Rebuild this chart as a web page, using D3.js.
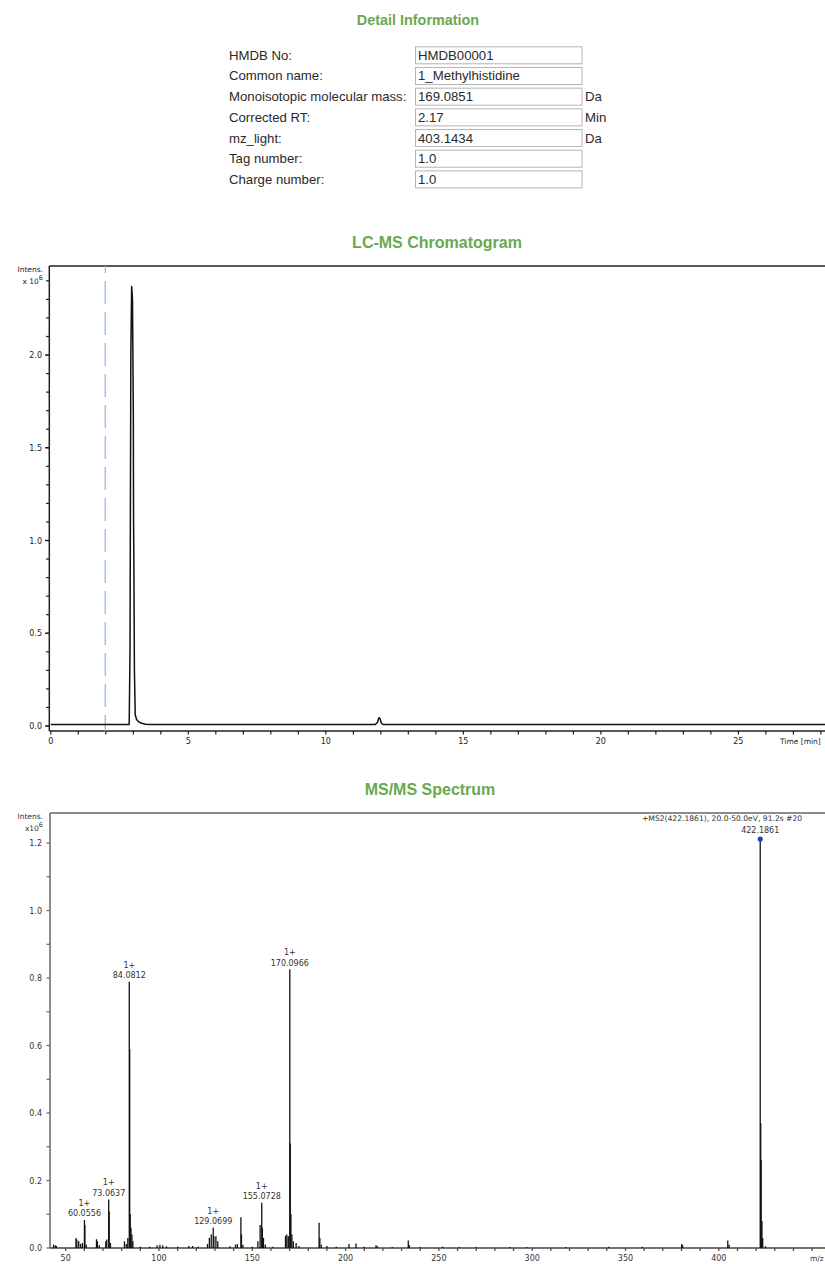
<!DOCTYPE html>
<html>
<head>
<meta charset="utf-8">
<script src="https://cdn.jsdelivr.net/npm/d3@7"></script>
<style>
  html, body { margin: 0; padding: 0; background: #fff; }
  svg { display: block; }
</style>
</head>
<body>
<div id="chart"></div>
<script>
// ---------------- DATA ----------------
const detailLabels = ["HMDB No:", "Common name:", "Monoisotopic molecular mass:", "Corrected RT:", "mz_light:", "Tag number:", "Charge number:"];
const detailValues = ["HMDB00001", "1_Methylhistidine", "169.0851", "2.17", "403.1434", "1.0", "1.0"];
const detailUnits  = ["", "", "Da", "Min", "Da", "", ""];

// LC-MS chromatogram (time in min, intensity x10^6)
const lcTime      = [0, 2.85, 2.88, 2.91, 2.94, 2.97, 3.0, 3.01, 3.02, 3.04, 3.07, 3.12, 3.2, 3.3, 3.45, 3.6, 11.8, 11.88, 11.93, 11.97, 12.02, 12.08, 28.2];
const lcIntensity = [0.008, 0.008, 0.4, 2.0, 2.37, 2.3, 1.7, 1.1, 0.9, 0.3, 0.06, 0.035, 0.022, 0.015, 0.01, 0.008, 0.008, 0.02, 0.045, 0.04, 0.015, 0.008, 0.008];
const rtMarker = 1.98;
const lcYTickLabels = ["0.0", "0.5", "1.0", "1.5", "2.0"];
const lcXTickLabels = ["0", "5", "10", "15", "20", "25"];

// MS/MS spectrum (m/z, intensity x10^6)
const msMz = [43.5, 44.5, 45, 55.5, 56, 57, 58, 59, 60.0556, 60.3, 61, 66.5, 67, 68, 71.5, 72, 73.0637, 73.3, 74,
  81.5, 82.5, 83.3, 84.0812, 84.3, 84.6, 85, 85.5, 86, 90, 95, 99, 100.5, 102, 104, 110, 116, 118, 121,
  126, 127, 128, 129.0699, 129.4, 130.5, 131.5, 138, 141, 142, 143.9, 144.2, 145, 150, 153, 154.2, 155.0728, 155.4, 156, 157, 161,
  167.8, 168.5, 169.3, 170.0966, 170.35, 170.7, 171.2, 172, 173.5, 175, 185.8, 186.2, 187, 190, 195, 201.8, 205.6, 210, 216.3, 217,
  225, 233.6, 234.2, 240, 252, 261, 270, 288, 297, 318, 341, 359, 380.1, 380.6, 404.8, 405.5,
  422.1861, 422.45, 422.7, 423.1, 423.5, 425];
const msIntensity = [0.01, 0.008, 0.006, 0.03, 0.025, 0.02, 0.012, 0.015, 0.083, 0.068, 0.01, 0.026, 0.02, 0.008, 0.02, 0.025, 0.144, 0.108, 0.015,
  0.02, 0.012, 0.03, 0.789, 0.59, 0.1, 0.06, 0.04, 0.02, 0.004, 0.004, 0.008, 0.01, 0.008, 0.005, 0.004, 0.006, 0.006, 0.004,
  0.012, 0.03, 0.04, 0.06, 0.035, 0.035, 0.02, 0.005, 0.01, 0.012, 0.091, 0.04, 0.01, 0.004, 0.02, 0.068, 0.134, 0.06, 0.03, 0.01, 0.004,
  0.036, 0.04, 0.035, 0.826, 0.31, 0.1, 0.04, 0.02, 0.015, 0.006, 0.075, 0.03, 0.01, 0.006, 0.004, 0.012, 0.013, 0.004, 0.008, 0.005,
  0.003, 0.022, 0.008, 0.003, 0.004, 0.003, 0.003, 0.003, 0.003, 0.003, 0.004, 0.004, 0.012, 0.008, 0.022, 0.01,
  1.212, 0.37, 0.26, 0.08, 0.03, 0.005];
const labelMz = [60.0556, 73.0637, 84.0812, 129.0699, 155.0728, 170.0966];
const labelCharge = "1+";
const precursorMz = 422.1861;
const msHeader = "+MS2(422.1861), 20.0-50.0eV, 91.2s #20";
const msYTickLabels = ["0.0", "0.2", "0.4", "0.6", "0.8", "1.0", "1.2"];
const msXTickLabels = ["50", "100", "150", "200", "250", "300", "350", "400"];

// ---------------- DRAW ----------------
const W = 825, H = 1264;
const green = "#6aa84f";
const svg = d3.select("#chart").append("svg").attr("width", W).attr("height", H);
svg.append("rect").attr("width", W).attr("height", H).attr("fill", "#fff");

// Detail table
svg.append("text").attr("x", 418).attr("y", 25).attr("text-anchor", "middle")
  .attr("font-family", "Liberation Sans, Arial, sans-serif").attr("font-weight", "bold")
  .attr("font-size", 14.4).attr("fill", green).text("Detail Information");

const rowY = d3.scaleLinear().domain([0, 6]).range([55.3, 179.4]);
const rows = svg.append("g").attr("font-family", "Liberation Sans, Arial, sans-serif").attr("font-size", 13.2).attr("fill", "#2a2a2a");
detailLabels.forEach((lab, i) => {
  const cy = rowY(i);
  rows.append("text").attr("x", 229).attr("y", cy + 4.5).text(lab);
  rows.append("rect").attr("x", 415.5).attr("y", cy - 8.5).attr("width", 166.5).attr("height", 17)
    .attr("fill", "#fff").attr("stroke", "#b4b4b4").attr("stroke-width", 1);
  rows.append("text").attr("x", 418).attr("y", cy + 4.5).text(detailValues[i]);
  if (detailUnits[i]) rows.append("text").attr("x", 585).attr("y", cy + 4.5).text(detailUnits[i]);
});

// ---- LC-MS chart ----
svg.append("text").attr("x", 437).attr("y", 248).attr("text-anchor", "middle")
  .attr("font-family", "Liberation Sans, Arial, sans-serif").attr("font-weight", "bold")
  .attr("font-size", 16).attr("fill", green).text("LC-MS Chromatogram");

const lcX = d3.scaleLinear().domain([0, 28.15]).range([50.8, 825]);
const lcY = d3.scaleLinear().domain([0, 2.48]).range([726, 266]);
const axisFont = "DejaVu Sans, Verdana, sans-serif";
const lc = svg.append("g");

// frame
lc.append("line").attr("x1", 49.3).attr("x2", 825).attr("y1", 266).attr("y2", 266).attr("stroke", "#222").attr("stroke-width", 1.5);
lc.append("line").attr("x1", 49.3).attr("x2", 49.3).attr("y1", 266).attr("y2", 731).attr("stroke", "#222").attr("stroke-width", 1.5);
lc.append("line").attr("x1", 49.3).attr("x2", 825).attr("y1", 731).attr("y2", 731).attr("stroke", "#222").attr("stroke-width", 1.5);

// y ticks
const lcYMinor = d3.range(0, 2.41, 0.1);
lc.selectAll(".ytm").data(lcYMinor).enter().append("line")
  .attr("x1", 46).attr("x2", 49.3).attr("y1", d => lcY(d)).attr("y2", d => lcY(d))
  .attr("stroke", "#222").attr("stroke-width", 1.2);
lc.selectAll(".ytM").data(lcYTickLabels).enter().append("line")
  .attr("x1", 45).attr("x2", 49.3).attr("y1", d => lcY(+d)).attr("y2", d => lcY(+d))
  .attr("stroke", "#222").attr("stroke-width", 1.3);
lc.selectAll(".ytl").data(lcYTickLabels).enter().append("text")
  .attr("x", 42).attr("y", d => lcY(+d) + 3).attr("text-anchor", "end")
  .attr("font-family", axisFont).attr("font-size", 8).attr("fill", "#222").text(d => d);

// x ticks
lc.selectAll(".xtm").data(d3.range(0, 29, 1)).enter().append("line")
  .attr("x1", d => lcX(d)).attr("x2", d => lcX(d)).attr("y1", 731).attr("y2", 734.5)
  .attr("stroke", "#222").attr("stroke-width", 1.2);
lc.selectAll(".xtl").data(lcXTickLabels).enter().append("text")
  .attr("x", d => lcX(+d)).attr("y", 744).attr("text-anchor", "middle")
  .attr("font-family", axisFont).attr("font-size", 8).attr("fill", "#222").text(d => d);
lc.append("text").attr("x", 780).attr("y", 744).attr("font-family", axisFont).attr("font-size", 7.5)
  .attr("fill", "#222").text("Time [min]");

// Intens label
lc.append("text").attr("x", 43).attr("y", 272).attr("text-anchor", "end").attr("font-family", axisFont)
  .attr("font-size", 7.5).attr("fill", "#222").text("Intens.");
const x10a = lc.append("text").attr("x", 43).attr("y", 284).attr("text-anchor", "end").attr("font-family", axisFont)
  .attr("font-size", 7.5).attr("fill", "#222");
x10a.append("tspan").text("x 10");
x10a.append("tspan").attr("dy", -4).attr("font-size", 6.5).text("6");

// RT marker
lc.append("line").attr("x1", lcX(rtMarker)).attr("x2", lcX(rtMarker)).attr("y1", 266).attr("y2", 731)
  .attr("stroke", "#8dbcf2").attr("stroke-width", 1.3).attr("stroke-dasharray", "23,8").attr("stroke-dashoffset", 16);

// chromatogram line
const lcData = lcTime.map((t, i) => [t, lcIntensity[i]]);
lc.append("path").datum(lcData)
  .attr("d", d3.line().x(d => lcX(d[0])).y(d => lcY(d[1])))
  .attr("fill", "none").attr("stroke", "#111").attr("stroke-width", 1.5).attr("stroke-linejoin", "round");

// ---- MS/MS chart ----
svg.append("text").attr("x", 430).attr("y", 795).attr("text-anchor", "middle")
  .attr("font-family", "Liberation Sans, Arial, sans-serif").attr("font-weight", "bold")
  .attr("font-size", 16).attr("fill", green).text("MS/MS Spectrum");

const msX = d3.scaleLinear().domain([41.6, 456.9]).range([50, 825]);
const msY = d3.scaleLinear().domain([0, 1.292]).range([1248, 812]);
const ms = svg.append("g");
const frameCol = "#666";
ms.append("line").attr("x1", 50).attr("x2", 825).attr("y1", 813).attr("y2", 813).attr("stroke", frameCol).attr("stroke-width", 1.5);
ms.append("line").attr("x1", 50).attr("x2", 50).attr("y1", 813).attr("y2", 1248).attr("stroke", frameCol).attr("stroke-width", 1.5);
ms.append("line").attr("x1", 50).attr("x2", 825).attr("y1", 1248).attr("y2", 1248).attr("stroke", "#444").attr("stroke-width", 1.3);

ms.selectAll(".ytm").data(d3.range(0, 1.21, 0.1)).enter().append("line")
  .attr("x1", 46.5).attr("x2", 50).attr("y1", d => msY(d)).attr("y2", d => msY(d))
  .attr("stroke", frameCol).attr("stroke-width", 1.2);
ms.selectAll(".ytl").data(msYTickLabels).enter().append("text")
  .attr("x", 42).attr("y", d => msY(+d) + 3).attr("text-anchor", "end")
  .attr("font-family", axisFont).attr("font-size", 8).attr("fill", "#333").text(d => d);

ms.selectAll(".xtm").data(d3.range(50, 451, 10)).enter().append("line")
  .attr("x1", d => msX(d)).attr("x2", d => msX(d)).attr("y1", 1248).attr("y2", 1251)
  .attr("stroke", "#444").attr("stroke-width", 1.2);
ms.selectAll(".xtl").data(msXTickLabels).enter().append("text")
  .attr("x", d => msX(+d)).attr("y", 1261).attr("text-anchor", "middle")
  .attr("font-family", axisFont).attr("font-size", 8).attr("fill", "#333").text(d => d);
ms.append("text").attr("x", 810).attr("y", 1261).attr("font-family", axisFont).attr("font-size", 7.5)
  .attr("fill", "#333").text("m/z");

ms.append("text").attr("x", 43).attr("y", 819).attr("text-anchor", "end").attr("font-family", axisFont)
  .attr("font-size", 7.5).attr("fill", "#333").text("Intens.");
const x10b = ms.append("text").attr("x", 43).attr("y", 831).attr("text-anchor", "end").attr("font-family", axisFont)
  .attr("font-size", 7.5).attr("fill", "#333");
x10b.append("tspan").text("x10");
x10b.append("tspan").attr("dy", -4).attr("font-size", 6.5).text("6");

ms.append("text").attr("x", 642).attr("y", 821).attr("font-family", axisFont).attr("font-size", 7.6)
  .attr("fill", "#333").text(msHeader);

// sticks
const msData = msMz.map((m, i) => [m, msIntensity[i]]);
ms.selectAll(".stick").data(msData).enter().append("line")
  .attr("x1", d => msX(d[0])).attr("x2", d => msX(d[0]))
  .attr("y1", msY(0)).attr("y2", d => msY(d[1]))
  .attr("stroke", "#111").attr("stroke-width", 1.3);

// peak labels
const lblFont = axisFont;
labelMz.forEach(m => {
  const idx = msMz.indexOf(m);
  const top = msY(msIntensity[idx]);
  const g = ms.append("g").attr("font-family", lblFont).attr("font-size", 8).attr("fill", "#333").attr("text-anchor", "middle");
  g.append("text").attr("x", msX(m)).attr("y", top - 14).text(labelCharge);
  g.append("text").attr("x", msX(m)).attr("y", top - 3.5).text(m.toFixed(4));
});
// precursor
{
  const idx = msMz.indexOf(precursorMz);
  const top = msY(msIntensity[idx]);
  ms.append("text").attr("x", msX(precursorMz)).attr("y", top - 6).attr("text-anchor", "middle")
    .attr("font-family", lblFont).attr("font-size", 8).attr("fill", "#333").text(precursorMz.toFixed(4));
  ms.append("circle").attr("cx", msX(precursorMz)).attr("cy", top).attr("r", 2.6).attr("fill", "#1f3fbf");
}
</script>
</body>
</html>
